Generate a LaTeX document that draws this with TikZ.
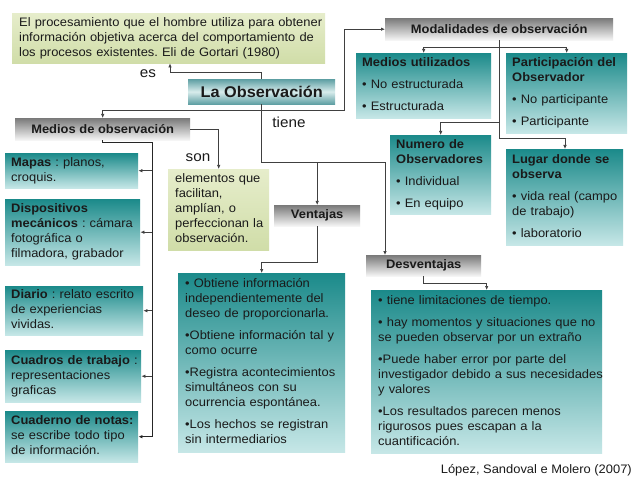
\documentclass[tikz,border=0pt]{standalone}
\usepackage{fontspec}
\setmainfont{Liberation Sans}[FakeStretch=1.05]
\usetikzlibrary{arrows.meta}
\definecolor{tealtop}{HTML}{1B8A8A}
\definecolor{tealbot}{HTML}{C6E7E7}
\definecolor{grtop}{HTML}{E6EDCB}
\definecolor{grbot}{HTML}{D0DDA8}
\definecolor{gytop}{HTML}{7A7A7A}
\definecolor{gybot}{HTML}{F6F6F6}
\definecolor{obsA}{HTML}{5E9FA3}
\definecolor{obsB}{HTML}{D8ECEC}
\definecolor{ln}{HTML}{404040}
\definecolor{txt}{HTML}{1A1A1A}
\newcommand\fsn{\fontsize{12.3bp}{15bp}\selectfont}
\newcommand\fsl{\fontsize{14.5bp}{17bp}\selectfont}
\newcommand\fst{\fontsize{15.5bp}{17bp}\selectfont}
\newcommand\pgap{\\[7bp]}
\newcommand\tl[1]{\begin{tabular}{@{}l@{}}#1\end{tabular}}
\frenchspacing
\begin{document}
\begin{tikzpicture}[x=1bp,y=-1bp,
  box/.style={anchor=north west, inner xsep=6bp, inner ysep=0pt, align=left, font=\fsn, text=txt},
  tealbox/.style={box, top color=tealtop, bottom color=tealbot},
  greenbox/.style={box, top color=grtop, bottom color=grbot},
  hdr/.style={anchor=north west, inner sep=0pt, top color=gytop, bottom color=gybot, font=\fsn\bfseries, align=center, text=txt},
  conn/.style={draw=ln, line width=0.7bp},
  arr/.style={conn, -{Latex[length=4bp,width=3.5bp]}},
  spine/.style={draw=black!85, line width=1.1bp},
  lbl/.style={font=\fsl, inner sep=0pt, text=txt},
]
\fill[white] (0,0) rectangle (640,480);
\useasboundingbox (0,0) rectangle (640,480);

% definition box
\node[greenbox, inner xsep=7bp, text width=299bp, minimum height=50bp] (defbox) at (12,13)
  {\tl{El procesamiento que el hombre utiliza para obtener\\información objetiva acerca del comportamiento de\\los procesos existentes. Eli de Gortari (1980)}};

% title
\node[anchor=north west, inner sep=0pt, minimum width=147bp, minimum height=25bp,
  top color=obsA, bottom color=obsA, middle color=obsB, font=\fst\bfseries, text=txt] (obs) at (188,79) {La Observación};

% headers
\node[hdr, minimum width=228bp, minimum height=22bp] (modal) at (385,18) {Modalidades de observación};
\node[hdr, minimum width=175bp, minimum height=22bp] (medios) at (15,118) {Medios de observación};
\node[hdr, minimum width=86bp, minimum height=21bp] (vent) at (274,205) {Ventajas};
\node[hdr, minimum width=115bp, minimum height=21bp] (desv) at (366,255) {Desventajas};

% modalidades boxes
\node[tealbox, text width=123bp, minimum height=65bp] (medu) at (356,53)
  {\tl{\textbf{Medios utilizados}\pgap • No estructurada\pgap • Estructurada}};
\node[tealbox, text width=109bp, minimum height=80bp] (part) at (506,53)
  {\tl{\textbf{Participación del}\\\textbf{Observador}\pgap • No participante\pgap • Participante}};
\node[tealbox, text width=89bp, minimum height=79bp] (num) at (390,135)
  {\tl{\textbf{Numero de}\\\textbf{Observadores}\pgap • Individual\pgap • En equipo}};
\node[tealbox, text width=105bp, minimum height=96bp] (lugar) at (506,149)
  {\tl{\textbf{Lugar donde se}\\\textbf{observa}\pgap • vida real (campo\\de trabajo)\pgap • laboratorio}};

% medios column
\node[tealbox, text width=121bp, minimum height=35bp] (mapas) at (5,153)
  {\tl{\textbf{Mapas} : planos,\\croquis.}};
\node[tealbox, text width=123bp, minimum height=66bp] (disp) at (5,199)
  {\tl{\textbf{Dispositivos}\\\textbf{mecánicos} : cámara\\fotográfica o\\filmadora, grabador}};
\node[tealbox, text width=126bp, minimum height=49bp] (diario) at (5,286)
  {\tl{\textbf{Diario} : relato escrito\\de experiencias\\vividas.}};
\node[tealbox, text width=124bp, minimum height=52bp] (cuadros) at (5,350)
  {\tl{\textbf{Cuadros de trabajo} :\\representaciones\\graficas}};
\node[tealbox, text width=121bp, minimum height=51bp] (cuaderno) at (5,411)
  {\tl{\textbf{Cuaderno de notas:}\\se escribe todo tipo\\de información.}};

% elementos
\node[greenbox, inner xsep=7bp, text width=87bp, minimum height=81bp] (elem) at (168,169)
  {\tl{elementos que\\facilitan,\\amplían, o\\perfeccionan la\\observación.}};

% ventajas / desventajas lists
\node[tealbox, inner xsep=7bp, text width=153bp, minimum height=179bp] (vlist) at (178,273)
  {\tl{• Obtiene información\\independientemente del\\deseo de proporcionarla.\pgap •Obtiene información tal y\\como ocurre\pgap •Registra acontecimientos\\simultáneos con su\\ocurrencia espontánea.\pgap •Los hechos se registran\\sin intermediarios}};
\node[tealbox, inner xsep=7bp, text width=217bp, minimum height=163bp] (dlist) at (371,290)
  {\tl{• tiene limitaciones de tiempo.\pgap • hay momentos y situaciones que no\\se pueden observar por un extraño\pgap •Puede haber error por parte del\\investigador debido a sus necesidades\\y valores\pgap •Los resultados parecen menos\\rigurosos pues escapan a la\\cuantificación.}};

% labels and citation
\node[lbl] (es) at (148,74) {es};
\node[lbl] (tiene) at (289,122) {tiene};
\node[lbl] (son) at (198,158) {son};
\node[anchor=east, font=\fsn, inner sep=0pt, text=txt] (cite) at (632,470) {López, Sandoval e Molero (2007)};

% connectors
\draw[arr] (obs.north) -- ++(0,-7) -| ([xshift=158bp]defbox.south west);
\coordinate (jn) at (344,110);
\draw[conn, {Latex[length=4bp,width=3.5bp]}-{Latex[length=4bp,width=3.5bp]}] (medios.north) |- (jn) |- (modal.west);
\draw[arr] (obs.south) -- ++(0,58) coordinate (tiJ) -| ([xshift=19bp]desv.north west);
\draw[arr] (tiJ -| vent.north) -- (vent.north);
\draw[arr] (medios.east) -| (elem.north);
\draw[arr] (vent.south) -- ++(0,36) -| (vlist.north);
\draw[arr] (desv.south) -- ++(0,7) -| (dlist.north);

\draw[arr] (modal.south) -- ++(0,98) -| ([xshift=59bp]lugar.north west);
\path (modal.south) ++(0,7) coordinate (mJ) ++(0,75) coordinate (nJ);
\draw[arr] (mJ) -| (medu.north);
\draw[arr] (mJ) -| (part.north);
\draw[arr] (nJ) -| (num.north);

\draw[spine, -{Latex[length=4bp,width=3.5bp]}] (medios.south) -- ++(0,2) -- ++(49.5,0) coordinate (spT) |- (cuaderno.east);
\draw[arr] (spT |- mapas.east) -- (mapas.east);
\draw[arr] (spT |- disp.east) -- (disp.east);
\draw[arr] (spT |- diario.east) -- (diario.east);
\draw[arr] (spT |- cuadros.east) -- (cuadros.east);
\end{tikzpicture}
\end{document}
